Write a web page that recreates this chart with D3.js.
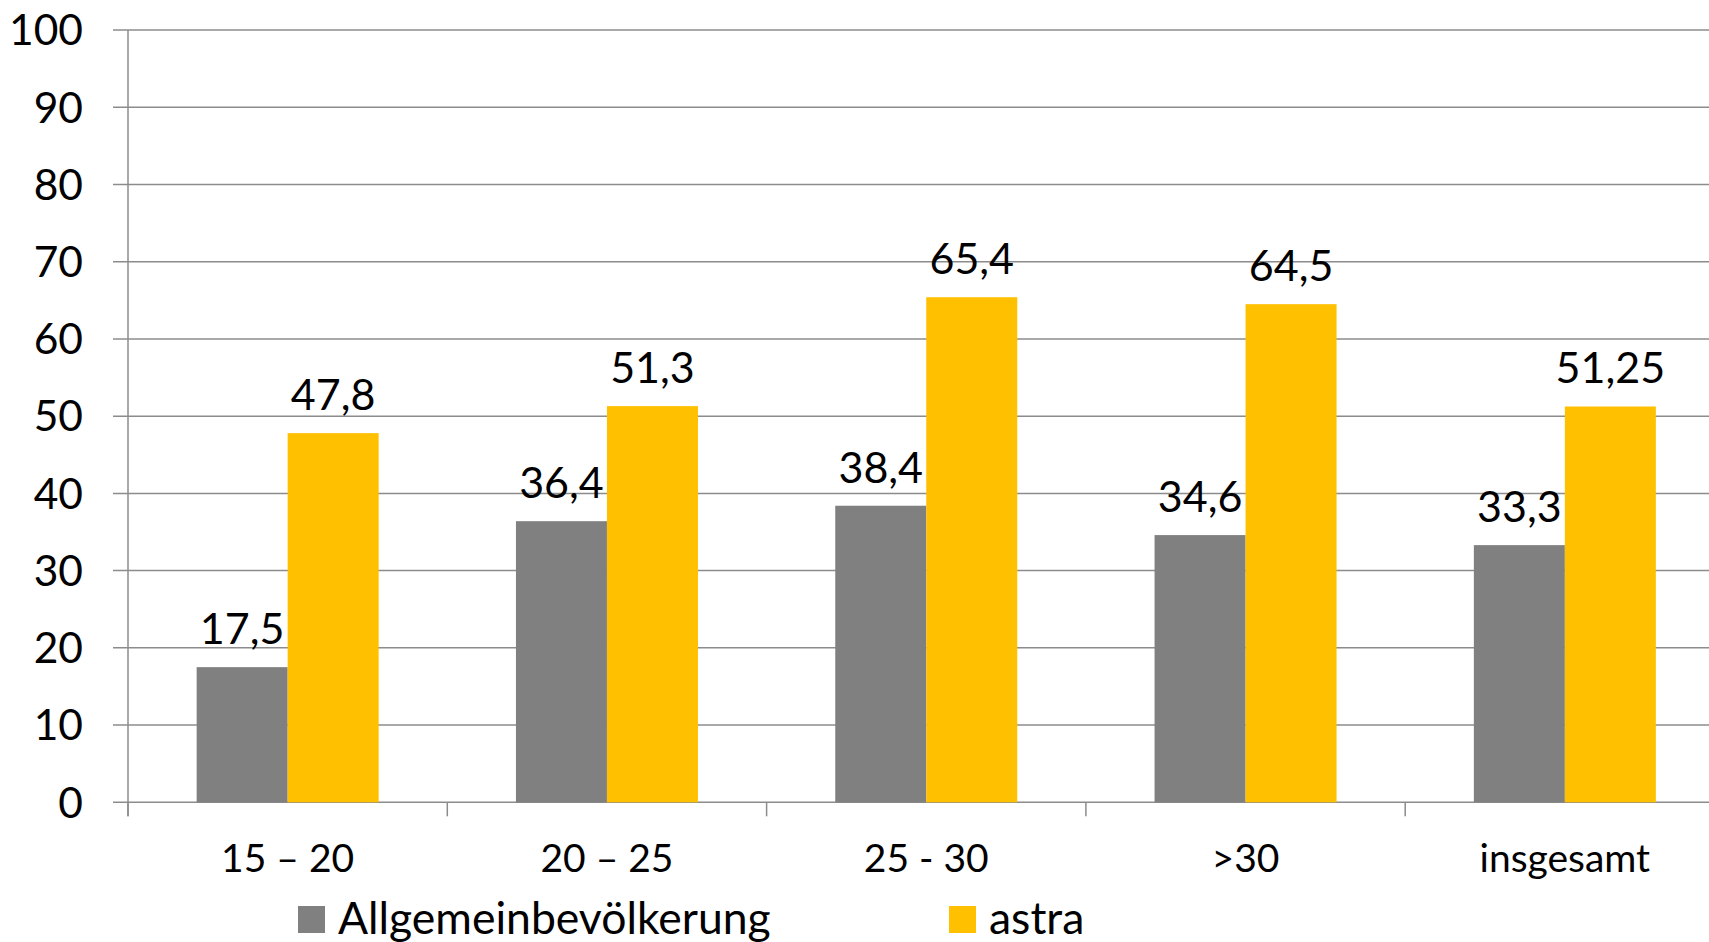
<!DOCTYPE html>
<meta charset="utf-8">
<script src="https://cdn.jsdelivr.net/npm/d3@7"></script>
<style>
body {margin: 0; background: #fff;}
svg {display: block; overflow: hidden;}
text {font-family: Lato, "Open Sans", sans-serif; fill: #000;}
.grid line {stroke: #8c8c8c; stroke-width: 1.5;}
.axis path, .axis line {stroke: #8c8c8c; stroke-width: 1.5;}
</style>
<body>
<div id="vis"></div>
<script>
var categories = ["15 \u2013 20", "20 \u2013 25", "25 - 30", ">30", "insgesamt"];
var seriesNames = ["Allgemeinbev\u00f6lkerung", "astra"];
var allgemein = [17.5, 36.4, 38.4, 34.6, 33.3];
var astra = [47.8, 51.3, 65.4, 64.5, 51.25];
var valueLabels = [["17,5", "36,4", "38,4", "34,6", "33,3"],
                   ["47,8", "51,3", "65,4", "64,5", "51,25"]];
var yTicks = [0, 10, 20, 30, 40, 50, 60, 70, 80, 90, 100];
var colors = ["#808080", "#ffc000"];

var width = 1709, height = 942;
var left = 128, bandW = 319.3;

var svg = d3.select("#vis").append("svg")
    .attr("width", width)
    .attr("height", height);

var x = d3.scaleBand()
    .domain(categories)
    .range([left, left + bandW * categories.length]);

var x1 = d3.scaleBand()
    .domain([0, 1])
    .range([0, 182]);

var y = d3.scaleLinear()
    .domain([0, 100])
    .range([802.3, 30]);

// gridlines (they also form the y tick marks)
svg.append("g").attr("class", "grid")
  .selectAll("line")
  .data(yTicks)
  .enter().append("line")
    .attr("x1", 113)
    .attr("x2", width)
    .attr("y1", function(d) { return y(d); })
    .attr("y2", function(d) { return y(d); });

// y axis line
svg.append("g").attr("class", "axis")
  .append("line")
    .attr("x1", left).attr("x2", left)
    .attr("y1", y(100)).attr("y2", y(0) + 14);

// y labels
svg.append("g")
  .selectAll("text")
  .data(yTicks)
  .enter().append("text")
    .attr("x", 83)
    .attr("y", function(d) { return y(d); })
    .attr("dy", "0.36em")
    .attr("text-anchor", "end")
    .style("font-size", "42.5px")
    .text(function(d) { return d; });

// x tick marks at band boundaries
var xBounds = categories.map(function(c) { return x(c); });
xBounds.push(x.range()[1]);
svg.append("g").attr("class", "axis")
  .selectAll("line")
  .data(xBounds)
  .enter().append("line")
    .attr("x1", function(d) { return d; })
    .attr("x2", function(d) { return d; })
    .attr("y1", y(0))
    .attr("y2", y(0) + 14);

// bars
var series = [allgemein, astra];
var groupOff = (bandW - 182) / 2;
series.forEach(function(vals, s) {
  var g = svg.append("g");
  g.selectAll("rect")
    .data(vals)
    .enter().append("rect")
      .attr("x", function(d, i) { return x(categories[i]) + groupOff + x1(s); })
      .attr("y", function(d) { return y(d); })
      .attr("width", x1.bandwidth())
      .attr("height", function(d) { return y(0) - y(d); })
      .attr("fill", colors[s]);
  g.selectAll("text")
    .data(vals)
    .enter().append("text")
      .attr("x", function(d, i) { return x(categories[i]) + groupOff + x1(s) + x1.bandwidth() / 2; })
      .attr("y", function(d) { return y(d) - 23; })
      .attr("text-anchor", "middle")
      .style("font-size", "43px")
      .text(function(d, i) { return valueLabels[s][i]; });
});

// category labels
svg.append("g")
  .selectAll("text")
  .data(categories)
  .enter().append("text")
    .attr("x", function(d) { return x(d) + bandW / 2; })
    .attr("y", 872)
    .attr("text-anchor", "middle")
    .style("font-size", "39px")
    .text(function(d) { return d; });

// legend
var legendX = [298, 949];
var legend = svg.append("g")
  .selectAll("g")
  .data(seriesNames)
  .enter().append("g")
    .attr("transform", function(d, i) { return "translate(" + legendX[i] + ",0)"; });
legend.append("rect")
    .attr("x", 0).attr("y", 906)
    .attr("width", 27).attr("height", 27)
    .attr("fill", function(d, i) { return colors[i]; });
legend.append("text")
    .attr("x", 40)
    .attr("y", 934)
    .style("font-size", "44.5px")
    .text(function(d) { return d; });
</script>
</body>
